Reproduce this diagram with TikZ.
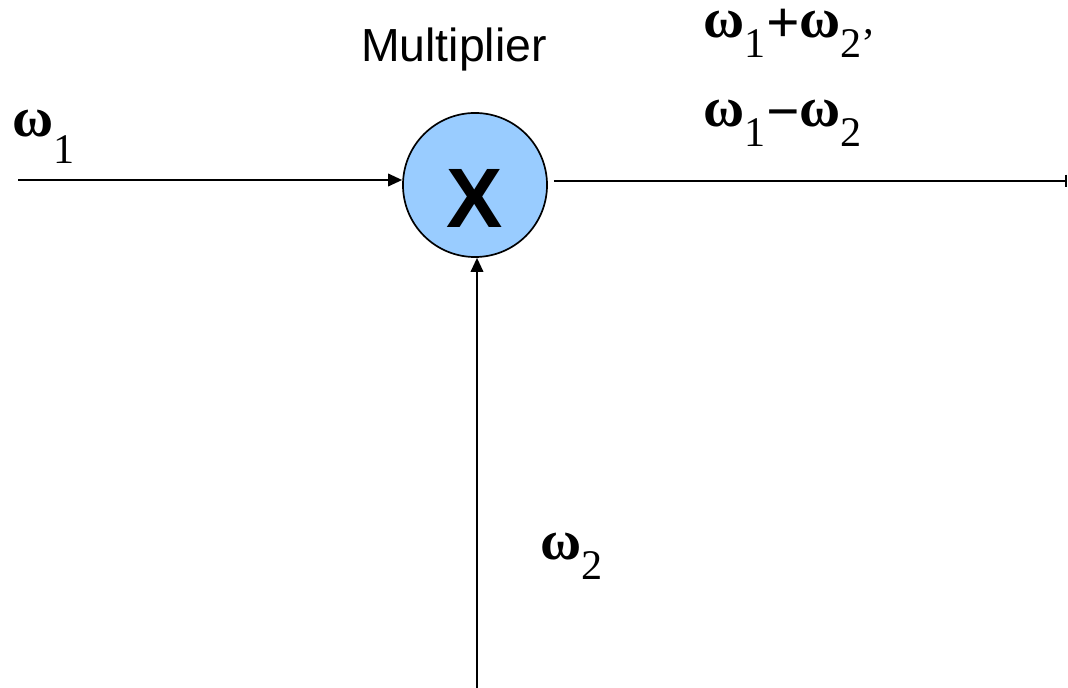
\documentclass[tikz,border=0pt]{standalone}
\usepackage{fontspec}
\setmainfont{Liberation Serif}
\setsansfont{Liberation Sans}
\usetikzlibrary{arrows.meta}
\definecolor{mulblue}{RGB}{153,204,255}
\newcommand{\om}[2][14pt]{{\fontsize{40}{40}\selectfont\bfseries ω}\raisebox{-#1}{#2}}
\newcommand{\opsym}[1]{\raisebox{-3pt}{\fontsize{42}{42}\selectfont\bfseries #1}}

\begin{document}
\begin{tikzpicture}[
    x=0.025cm, y=-0.025cm,
    line width=1.2pt,
    wlabel/.style={font=\fontsize{30}{36}\selectfont, anchor=base west, inner sep=0pt},
    sig/.style={-{Triangle[length=10pt,width=9pt]}}
  ]
    \useasboundingbox (0,0) rectangle (1068,688);

    \node[circle, draw, fill=mulblue, minimum size=3.6cm, inner sep=0pt,
      font=\sffamily\bfseries\fontsize{60}{60}\selectfont] (mult) at (475,185)
      {\raisebox{0pt}[\dimexpr\height+0.65cm\relax][\depth]{X}};
    \node[font=\sffamily\fontsize{33}{40}\selectfont, anchor=base] (mlabel) at (454,62) {Multiplier};

    \node[wlabel] (w1) at (12,137) {\om[19pt]{1}};
    \node[wlabel] (wsum) at (703,38) {\om{1}\opsym{+}\om{2’}};
    \node[wlabel] (wdiff) at (703,127) {\om{1}\opsym{−}\om{2}};
    \node[wlabel] (w2) at (540,560) {\om{2}};

    \coordinate (in1) at (18,180);
    \coordinate (in2) at (477,688);
    \coordinate (out) at (1067,181);

    \draw[sig] (in1) -- (mult.west |- in1);
    \draw[sig] (in2) -- (in2 |- mult.south);
    \draw[-{Bar[width=9pt]}] ([xshift=0.15cm]mult.east |- out) -- (out);
  \end{tikzpicture}
\end{document}
